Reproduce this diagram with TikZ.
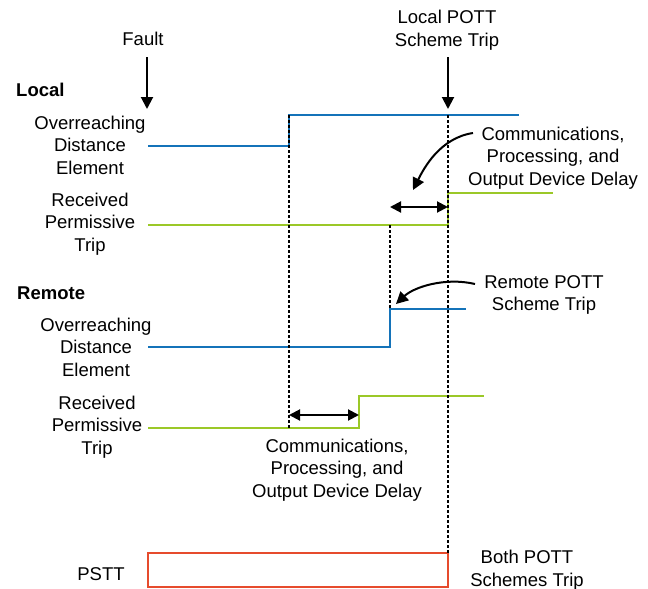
\documentclass[tikz,border=0pt]{standalone}
\usepackage{fontspec}
\setmainfont{Liberation Sans}
\usetikzlibrary{arrows.meta}
\definecolor{odeblue}{RGB}{20,115,185}
\definecolor{rptgreen}{RGB}{155,200,40}
\definecolor{psttred}{RGB}{230,75,45}
\begin{document}
\begin{tikzpicture}[x=1pt,y=-1pt,
    lbl/.style={align=center,font=\fontsize{18.5}{22.5}\selectfont,inner sep=0pt},
    hd/.style={anchor=west,font=\bfseries\fontsize{18.5}{22.5}\selectfont,inner sep=0pt},
    sig/.style={line width=2pt},
    tline/.style={densely dashed,line width=1.4pt},
    arr/.style={line width=2pt,-{Triangle[length=12pt,width=12pt]}},
    darr/.style={line width=2pt,{Triangle[length=11pt,width=11pt]}-{Triangle[length=11pt,width=11pt]}}]
    \useasboundingbox (0,0) rectangle (648,589);
    \node[lbl] (fault) at (143,39) {Fault};
    \node[lbl] (ltrip) at (447,30) {Local POTT\\Scheme Trip};
    \node[hd] (local) at (16,90) {Local};
    \node[lbl] (lode) at (90,145) {Overreaching\\Distance\\Element};
    \node[lbl] (lrpt) at (90,224) {Received\\Permissive\\Trip};
    \node[hd] (remote) at (17,293) {Remote};
    \node[lbl] (rode) at (96,347) {Overreaching\\Distance\\Element};
    \node[lbl] (rrpt) at (97,427) {Received\\Permissive\\Trip};
    \node[lbl] (pstt) at (101,574) {PSTT};
    \node[lbl] (ldelay) at (553,158) {Communications,\\Processing, and\\Output Device Delay};
    \node[lbl] (rtrip) at (544,295) {Remote POTT\\Scheme Trip};
    \node[lbl] (rdelay) at (337,470) {Communications,\\Processing, and\\Output Device Delay};
    \node[lbl] (both) at (527,570) {Both POTT\\Schemes Trip};
    \coordinate (fs) at (147,57);
    \coordinate (fe) at (147,109);
    \coordinate (ls) at (448,57);
    \coordinate (le) at (448,109);
    \coordinate (lds) at (473,133);
    \coordinate (lde) at (413,190);
    \coordinate (rts) at (475,284);
    \coordinate (rte) at (396,304);
    \draw[sig,odeblue] (148,146) -- (289,146) -- (289,115) -- (519,115);
    \draw[sig,rptgreen] (148,225) -- (448,225) -- (448,193) -- (553,193);
    \draw[sig,odeblue] (148,347) -- (390,347) -- (390,309) -- (466,309);
    \draw[sig,rptgreen] (148,428) -- (359,428) -- (359,396) -- (484,396);
    \draw[sig,psttred] (148,553) rectangle (448,587);
    \draw[tline] (289,115) -- (289,428) (390,225) -- (390,309) (448,115) -- (448,553);
    \draw[arr] (fs) -- (fe);
    \draw[arr] (ls) -- (le);
    \draw[darr] (390,207) -- (448,207);
    \draw[darr] (289,415) -- (359,415);
    \draw[arr] (lds) .. controls (440,138) and (424,168) .. (lde);
    \draw[arr] (rts) .. controls (445,277) and (414,287) .. (rte);
\end{tikzpicture}
\end{document}
